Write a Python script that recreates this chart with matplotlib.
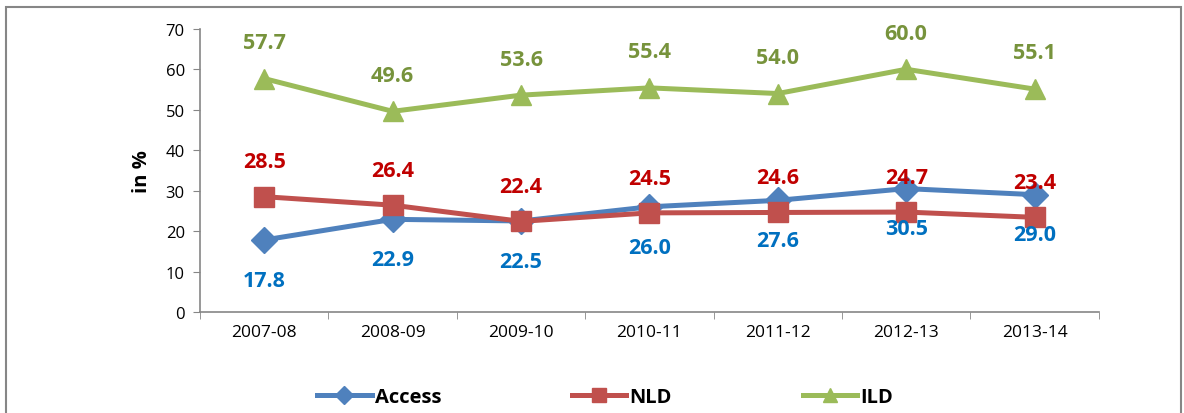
import numpy as np
import matplotlib
matplotlib.use("Agg")
from matplotlib import pyplot as plt
from matplotlib.patches import Rectangle

years = ["2007-08", "2008-09", "2009-10", "2010-11", "2011-12", "2012-13", "2013-14"]
access = [17.8, 22.9, 22.5, 26.0, 27.6, 30.5, 29.0]
nld = [28.5, 26.4, 22.4, 24.5, 24.6, 24.7, 23.4]
ild = [57.7, 49.6, 53.6, 55.4, 54.0, 60.0, 55.1]

plt.rcParams['font.family'] = ['Open Sans', 'DejaVu Sans']

if __name__ == '__main__':
    fig = plt.figure(figsize=(11.84, 4.14), dpi=100)
    ax = fig.add_axes([0.169, 0.244, 0.759, 0.684])
    x = np.arange(len(years))

    ax.plot(x, access, color='#4F81BD', lw=3.6, marker='D', ms=13, label='Access', zorder=3)
    ax.plot(x, nld, color='#C0504D', lw=3.6, marker='s', ms=14, label='NLD', zorder=3)
    ax.plot(x, ild, color='#9BBB59', lw=3.6, marker='^', ms=15, label='ILD', zorder=3)

    for i in x:
        ax.annotate(f"{access[i]:.1f}", (i, access[i]), xytext=(0, -29), textcoords='offset points',
                    ha='center', va='center', color='#0070C0', fontsize=15.5, fontweight='bold', zorder=4)
        ax.annotate(f"{nld[i]:.1f}", (i, nld[i]), xytext=(0, 25), textcoords='offset points',
                    ha='center', va='center', color='#C00000', fontsize=15.5, fontweight='bold', zorder=4)
        ax.annotate(f"{ild[i]:.1f}", (i, ild[i]), xytext=(0, 26), textcoords='offset points',
                    ha='center', va='center', color='#77933C', fontsize=15.5, fontweight='bold', zorder=4)

    ax.set_xlim(-0.5, 6.5)
    ax.set_ylim(0, 70)
    ax.set_yticks(range(0, 71, 10))
    ax.set_xticks(x)
    ax.set_xticklabels(years)
    ax.set_xticks(np.arange(-0.5, 7, 1), minor=True)
    ax.tick_params(axis='x', which='major', length=0, pad=9, labelsize=12.5)
    ax.tick_params(axis='x', which='minor', length=5, color='#868686', direction='out')
    ax.tick_params(axis='y', length=5, color='#868686', labelsize=12, pad=6)
    for s in ['top', 'right']:
        ax.spines[s].set_visible(False)
    for s in ['left', 'bottom']:
        ax.spines[s].set_color('#868686')
        ax.spines[s].set_linewidth(1.2)
    ax.set_ylabel('in %', fontsize=14.5, fontweight='bold', labelpad=10)

    leg = fig.legend(loc='center', bbox_to_anchor=(0.511, 0.039), ncol=3, frameon=False,
                     prop={'weight': 'bold', 'size': 14.5}, columnspacing=6.5, handlelength=2.7,
                     handletextpad=0.15, markerscale=0.7)

    fig.patches.append(Rectangle((0.005, -0.1), 0.9925, 1.08, transform=fig.transFigure,
                                 fill=False, edgecolor='#868686', lw=1.5))
    fig.savefig('out.png', dpi=100)
